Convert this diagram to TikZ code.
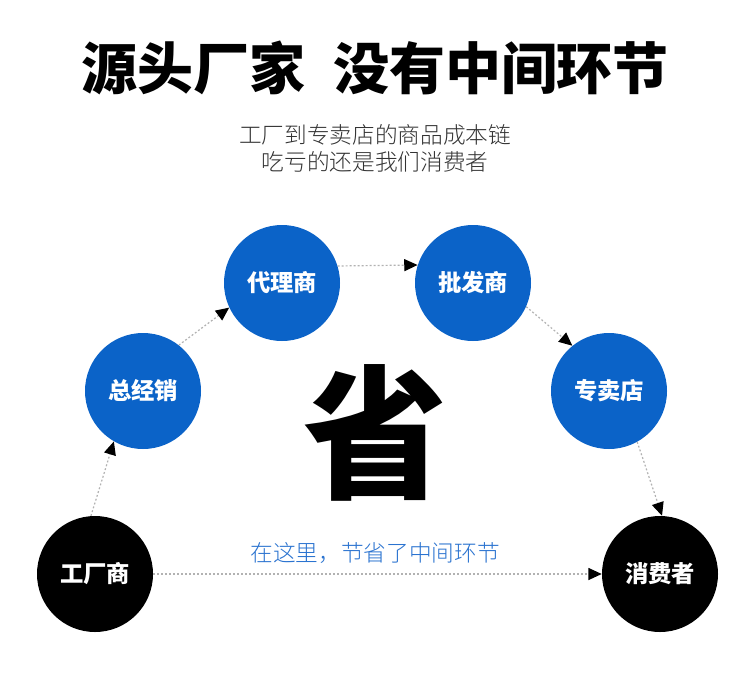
\documentclass[tikz,border=0pt]{standalone}
\usepackage{fontspec}
\usetikzlibrary{arrows.meta}
\newfontfamily\cjkblack{Noto Sans CJK SC Black}
\newfontfamily\cjkbold{Noto Sans CJK SC Bold}
\newfontfamily\cjklight{Noto Sans CJK SC Light}
\definecolor{cblue}{HTML}{0B63C8}
\definecolor{tblue}{HTML}{2A73D0}
\definecolor{subgray}{HTML}{333333}
\tikzset{
  circ/.style={circle, minimum size=87pt, inner sep=0pt, text=white, font=\cjkblack\fontsize{17.5}{19}\selectfont},
  bluec/.style={circ, fill=cblue},
  blackc/.style={circ, fill=black},
  conn/.style={draw=gray!60, line width=0.9pt, dash pattern=on 1.4pt off 1.6pt,
    -{Triangle[length=10pt,width=9pt,color=black]}},
  txt/.style={inner sep=0pt},
}
\begin{document}
\begin{tikzpicture}[x=0.75pt,y=-0.75pt]
\useasboundingbox[fill=white] (0,0) rectangle (750,675);
\node[txt, font=\cjkblack\fontsize{42}{46}\selectfont] (title) at (375,68) {源头厂家\hspace{0.5em}没有中间环节};
\node[txt, text=subgray, font=\cjklight\fontsize{17}{20}\selectfont] (sub1) at (375,135) {工厂到专卖店的商品成本链};
\node[txt, text=subgray, font=\cjklight\fontsize{17}{20}\selectfont] (sub2) at (375,162) {吃亏的还是我们消费者};
\node[txt, font=\cjkblack\fontsize{108}{110}\selectfont] (sheng) at (375,433) {省};
\node[txt, text=tblue, font=\cjklight\fontsize{17}{20}\selectfont] (note) at (375,553) {在这里，节省了中间环节};
\node[blackc] (f) at (95,574) {工厂商};
\node[bluec] (z) at (143,391) {总经销};
\node[bluec] (d) at (282,283) {代理商};
\node[bluec] (p) at (473,283) {批发商};
\node[bluec] (s) at (609,391) {专卖店};
\node[blackc] (c) at (660,574) {消费者};
\draw[conn] (f.94) -- (z.240);
\draw[conn] (z.52) -- (d.205);
\draw[conn] (d.17) -- (p.162);
\draw[conn] (p.336) -- (s.129);
\draw[conn] (s.299) -- (c.88);
\draw[conn] (f.0) -- (c.180);
\end{tikzpicture}
\end{document}
